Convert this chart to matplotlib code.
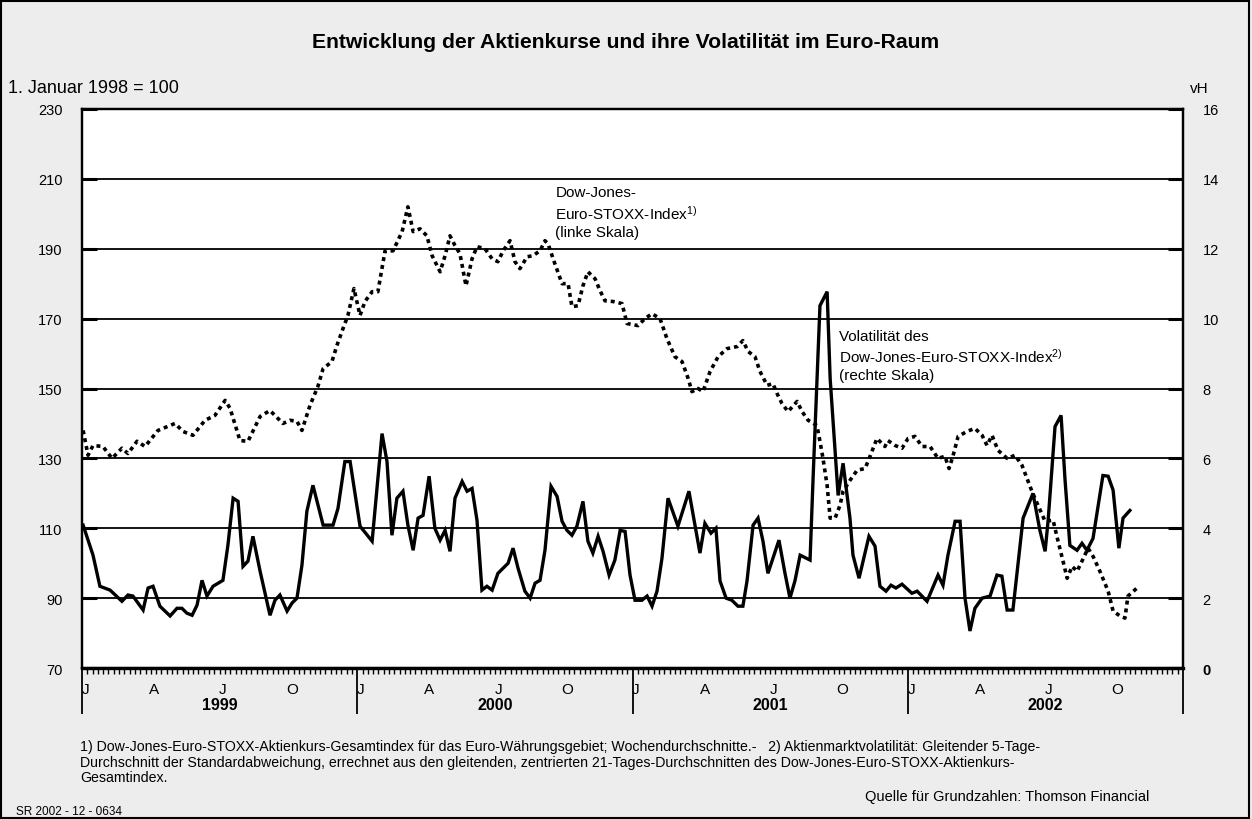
"""
Aktienkurse und Volatilitaet im Euro-Raum (SR 2002 - 12 - 0634).

Wochenwerte, Zeitachse in Jahren seit 1. Januar 1999.
"""

import numpy as np
import matplotlib
matplotlib.use("Agg")
import matplotlib.pyplot as plt
from matplotlib.patches import Rectangle
from matplotlib.transforms import blended_transform_factory

plt.rcParams["font.family"] = ["Liberation Sans", "DejaVu Sans"]
plt.rcParams["mathtext.fontset"] = "custom"
plt.rcParams["mathtext.rm"] = "Liberation Sans"
plt.rcParams["mathtext.it"] = "Liberation Sans"

# Dow-Jones-Euro-STOXX-Index (1. Januar 1998 = 100), linke Skala
t_index = [
    0.004, 0.022, 0.040, 0.076, 0.109, 0.145, 0.167, 0.200, 0.229, 0.276,
    0.338, 0.367, 0.403, 0.447, 0.483, 0.520, 0.538, 0.574, 0.603, 0.647,
    0.683, 0.730, 0.756, 0.781, 0.799, 0.828, 0.857, 0.876, 0.908, 0.926,
    0.948, 0.966, 0.988, 1.010, 1.028, 1.054, 1.075, 1.101, 1.130, 1.163,
    1.184, 1.203, 1.228, 1.253, 1.272, 1.301, 1.319, 1.337, 1.355, 1.373,
    1.395, 1.417, 1.435, 1.464, 1.490, 1.511, 1.530, 1.555, 1.573, 1.591,
    1.617, 1.638, 1.664, 1.682, 1.693, 1.718, 1.744, 1.766, 1.780, 1.802,
    1.820, 1.838, 1.864, 1.882, 1.900, 1.929, 1.962, 1.980, 2.020, 2.045,
    2.071, 2.100, 2.125, 2.154, 2.180, 2.202, 2.216, 2.238, 2.256, 2.282,
    2.311, 2.343, 2.380, 2.401, 2.420, 2.445, 2.463, 2.489, 2.510, 2.525,
    2.543, 2.565, 2.598, 2.616, 2.638, 2.670, 2.681, 2.692, 2.707, 2.718,
    2.736, 2.754, 2.765, 2.790, 2.816, 2.845, 2.863, 2.888, 2.917, 2.928,
    2.954, 2.979, 3.001, 3.026, 3.052, 3.081, 3.110, 3.135, 3.150, 3.164,
    3.183, 3.215, 3.244, 3.270, 3.288, 3.306, 3.328, 3.361, 3.390, 3.415,
    3.433, 3.451, 3.473, 3.499, 3.528, 3.546, 3.564, 3.579, 3.597, 3.615,
    3.633, 3.655, 3.673, 3.698, 3.728, 3.746, 3.771, 3.789, 3.800, 3.833,
]
index_values = [
    138.0, 130.9, 133.7, 133.4, 130.0, 132.9, 131.4, 134.9, 133.4, 138.0,
    140.0, 137.7, 136.6, 140.9, 142.3, 146.6, 144.3, 135.1, 134.9, 142.0,
    143.7, 140.0, 140.9, 140.6, 138.0, 145.1, 150.6, 155.7, 157.7, 162.3,
    167.1, 170.9, 178.6, 170.9, 174.9, 177.7, 177.7, 189.4, 189.4, 194.9,
    202.0, 194.9, 195.7, 193.7, 188.0, 183.4, 188.0, 193.7, 190.9, 188.6,
    179.4, 187.1, 190.6, 190.0, 187.1, 186.3, 189.4, 192.3, 186.3, 184.3,
    187.7, 188.0, 189.4, 192.3, 191.4, 185.7, 180.0, 180.0, 173.4, 173.7,
    179.4, 183.4, 181.4, 178.0, 175.1, 174.9, 174.3, 168.6, 168.0, 170.0,
    171.4, 170.0, 164.3, 159.1, 157.7, 152.9, 149.1, 150.0, 149.1, 154.9,
    159.1, 161.4, 162.0, 163.7, 160.6, 159.1, 154.9, 150.9, 151.4, 148.6,
    145.7, 143.4, 146.3, 143.4, 140.9, 139.4, 134.9, 130.0, 122.3, 112.9,
    112.9, 116.6, 120.6, 123.7, 126.6, 127.1, 130.6, 135.7, 133.4, 135.1,
    133.7, 132.9, 135.7, 136.3, 133.4, 133.4, 130.0, 130.6, 127.1, 130.6,
    136.3, 137.7, 138.6, 136.6, 133.7, 136.6, 132.3, 130.0, 130.9, 128.0,
    124.3, 120.6, 116.6, 112.0, 112.3, 106.3, 100.6, 95.7, 99.1, 97.7,
    100.6, 104.3, 102.0, 97.7, 92.0, 86.3, 84.9, 84.3, 90.6, 92.9,
]

# Volatilitaet des Index (vH), rechte Skala
t_vola = [
    0.004, 0.040, 0.065, 0.102, 0.145, 0.167, 0.185, 0.222, 0.240, 0.258,
    0.283, 0.320, 0.345, 0.363, 0.381, 0.400, 0.418, 0.436, 0.454, 0.476,
    0.512, 0.530, 0.549, 0.567, 0.585, 0.603, 0.621, 0.647, 0.683, 0.701,
    0.719, 0.745, 0.763, 0.781, 0.799, 0.817, 0.839, 0.876, 0.912, 0.930,
    0.955, 0.974, 1.010, 1.054, 1.090, 1.108, 1.126, 1.144, 1.166, 1.184,
    1.203, 1.221, 1.239, 1.261, 1.282, 1.301, 1.319, 1.337, 1.355, 1.381,
    1.399, 1.417, 1.435, 1.453, 1.471, 1.490, 1.511, 1.548, 1.566, 1.584,
    1.609, 1.628, 1.646, 1.664, 1.682, 1.704, 1.726, 1.744, 1.762, 1.780,
    1.798, 1.820, 1.838, 1.856, 1.875, 1.893, 1.915, 1.936, 1.955, 1.973,
    1.991, 2.009, 2.034, 2.053, 2.071, 2.089, 2.107, 2.129, 2.165, 2.205,
    2.227, 2.245, 2.263, 2.285, 2.303, 2.318, 2.340, 2.361, 2.383, 2.401,
    2.416, 2.438, 2.456, 2.474, 2.492, 2.532, 2.554, 2.572, 2.590, 2.609,
    2.645, 2.656, 2.681, 2.707, 2.718, 2.747, 2.765, 2.790, 2.801, 2.823,
    2.859, 2.881, 2.899, 2.921, 2.939, 2.957, 2.979, 3.015, 3.034, 3.070,
    3.110, 3.128, 3.146, 3.172, 3.190, 3.208, 3.226, 3.244, 3.270, 3.299,
    3.324, 3.342, 3.361, 3.382, 3.419, 3.455, 3.480, 3.499, 3.510, 3.535,
    3.557, 3.571, 3.589, 3.615, 3.633, 3.651, 3.673, 3.709, 3.728, 3.746,
    3.767, 3.782, 3.807,
]
vola_values = [
    4.09, 3.23, 2.34, 2.23, 1.91, 2.09, 2.06, 1.66, 2.29, 2.34,
    1.77, 1.49, 1.71, 1.71, 1.57, 1.51, 1.80, 2.51, 2.06, 2.34,
    2.51, 3.51, 4.86, 4.77, 2.91, 3.06, 3.77, 2.77, 1.51, 1.94,
    2.09, 1.63, 1.86, 2.00, 2.94, 4.49, 5.23, 4.09, 4.09, 4.57,
    5.91, 5.91, 4.06, 3.63, 6.71, 5.91, 3.80, 4.86, 5.06, 4.09,
    3.37, 4.29, 4.37, 5.49, 4.00, 3.66, 3.94, 3.34, 4.86, 5.34,
    5.06, 5.14, 4.23, 2.23, 2.34, 2.23, 2.71, 3.00, 3.43, 2.86,
    2.20, 2.00, 2.43, 2.51, 3.37, 5.20, 4.91, 4.20, 3.94, 3.80,
    4.06, 4.77, 3.63, 3.29, 3.77, 3.34, 2.66, 3.09, 3.94, 3.91,
    2.66, 1.94, 1.94, 2.06, 1.77, 2.20, 3.14, 4.86, 4.06, 5.06,
    4.09, 3.29, 4.14, 3.86, 4.00, 2.49, 2.00, 1.94, 1.77, 1.77,
    2.49, 4.09, 4.29, 3.63, 2.71, 3.66, 2.71, 2.00, 2.49, 3.23,
    3.09, 5.43, 10.37, 10.77, 8.29, 4.94, 5.86, 4.29, 3.23, 2.57,
    3.77, 3.49, 2.34, 2.20, 2.37, 2.29, 2.40, 2.14, 2.20, 1.91,
    2.66, 2.37, 3.23, 4.20, 4.20, 2.00, 1.06, 1.71, 2.00, 2.06,
    2.66, 2.63, 1.66, 1.66, 4.29, 5.00, 3.94, 3.34, 4.23, 6.91,
    7.23, 5.43, 3.51, 3.37, 3.57, 3.37, 3.71, 5.51, 5.49, 5.09,
    3.43, 4.29, 4.51,
]

years = ["1999", "2000", "2001", "2002"]
month_labels = ["J", "A", "J", "O"]
left_ticks = [70, 90, 110, 130, 150, 170, 190, 210, 230]
right_ticks = [0, 2, 4, 6, 8, 10, 12, 14, 16]

BG = "#ededed"

footnote = (
    "1) Dow-Jones-Euro-STOXX-Aktienkurs-Gesamtindex für das Euro-Währungsgebiet; "
    "Wochendurchschnitte.-   2) Aktienmarktvolatilität: Gleitender 5-Tage-\n"
    "Durchschnitt der Standardabweichung, errechnet aus den gleitenden, zentrierten "
    "21-Tages-Durchschnitten des Dow-Jones-Euro-STOXX-Aktienkurs-\n"
    "Gesamtindex."
)


def main():
    fig = plt.figure(figsize=(12.52, 8.2), dpi=100, facecolor=BG)
    ax = fig.add_axes([0.0655, 0.1841, 0.8794, 0.6818])
    ax.set_facecolor("white")
    ax2 = ax.twinx()

    ax.set_xlim(0, len(years))
    ax.set_ylim(70, 230)
    ax2.set_ylim(0, 16)

    for v in left_ticks[1:]:
        ax.axhline(v, color="black", lw=1.3, zorder=1)

    ax.plot(t_index, index_values, color="black", lw=2.6,
            linestyle=(0, (1.1, 1.1)), zorder=3)
    ax2.plot(t_vola, vola_values, color="black", lw=2.4,
             solid_joinstyle="miter", zorder=3)

    for a in (ax, ax2):
        for s in a.spines.values():
            s.set_linewidth(1.6)
    ax.spines["bottom"].set_linewidth(2.4)

    # y-Achsen
    ax.set_yticks(left_ticks)
    ax.tick_params(axis="y", direction="in", length=11, width=2.2,
                   pad=14, labelsize=10.5)
    ax2.set_yticks(right_ticks)
    ax2.set_yticklabels([str(v) for v in right_ticks])
    ax2.tick_params(axis="y", direction="in", length=11, width=2.2,
                    pad=14, labelsize=10.5)
    ax2.get_yticklabels()[0].set_fontweight("bold")

    # x-Achse: Wochenstriche, Jahrestrennung, Monats- und Jahresbeschriftung
    ax.set_xticks(np.arange(0, len(years) + 0.001, 1))
    ax.set_xticklabels([])
    ax.tick_params(axis="x", which="major", direction="out", length=33,
                   width=1.3)
    ax.set_xticks(np.arange(0, len(years), 1 / 52), minor=True)
    ax.tick_params(axis="x", which="minor", direction="out", length=4.5,
                   width=1.0)
    ax2.tick_params(axis="x", bottom=False)

    trans = blended_transform_factory(ax.transData, ax.transAxes)
    for i, yr in enumerate(years):
        for m, lab in enumerate(month_labels):
            ax.text(i + m * 0.25 + 0.012, -0.038, lab, transform=trans,
                    ha="center", va="center", fontsize=11)
        ax.text(i + 0.5, -0.066, yr, transform=trans, ha="center",
                va="center", fontsize=11.5, fontweight="bold")

    # Beschriftung der Linien
    ax.text(1.72, 200.6, "Dow-Jones-\nEuro-STOXX-Index$^{1)}$\n(linke Skala)",
            ha="left", va="center", fontsize=11, linespacing=1.3)
    ax2.text(2.75, 8.94,
             "Volatilität des\nDow-Jones-Euro-STOXX-Index$^{2)}$\n(rechte Skala)",
             ha="left", va="center", fontsize=11, linespacing=1.3)

    # Texte ausserhalb
    fig.text(0.5, 0.948, "Entwicklung der Aktienkurse und ihre Volatilität im Euro-Raum",
             ha="center", va="center", fontsize=15.2, fontweight="bold")
    fig.text(0.0064, 0.892, "1. Januar 1998 = 100", ha="left", va="center",
             fontsize=13)
    fig.text(0.965, 0.892, "vH", ha="right", va="center", fontsize=11)
    fig.text(0.064, 0.0975, footnote, ha="left", va="top", fontsize=10.2,
             linespacing=1.15)
    fig.text(0.918, 0.028, "Quelle für Grundzahlen: Thomson Financial",
             ha="right", va="center", fontsize=10.5)
    fig.text(0.013, 0.010, "SR 2002 - 12 - 0634", ha="left", va="center",
             fontsize=8.5)

    fig.patches.append(Rectangle((0.001, 0.001), 0.997, 0.997,
                                 transform=fig.transFigure, fill=False,
                                 edgecolor="black", lw=1.5))

    fig.savefig("out.png", dpi=100, facecolor=BG)
    plt.close(fig)


if __name__ == "__main__":
    main()
